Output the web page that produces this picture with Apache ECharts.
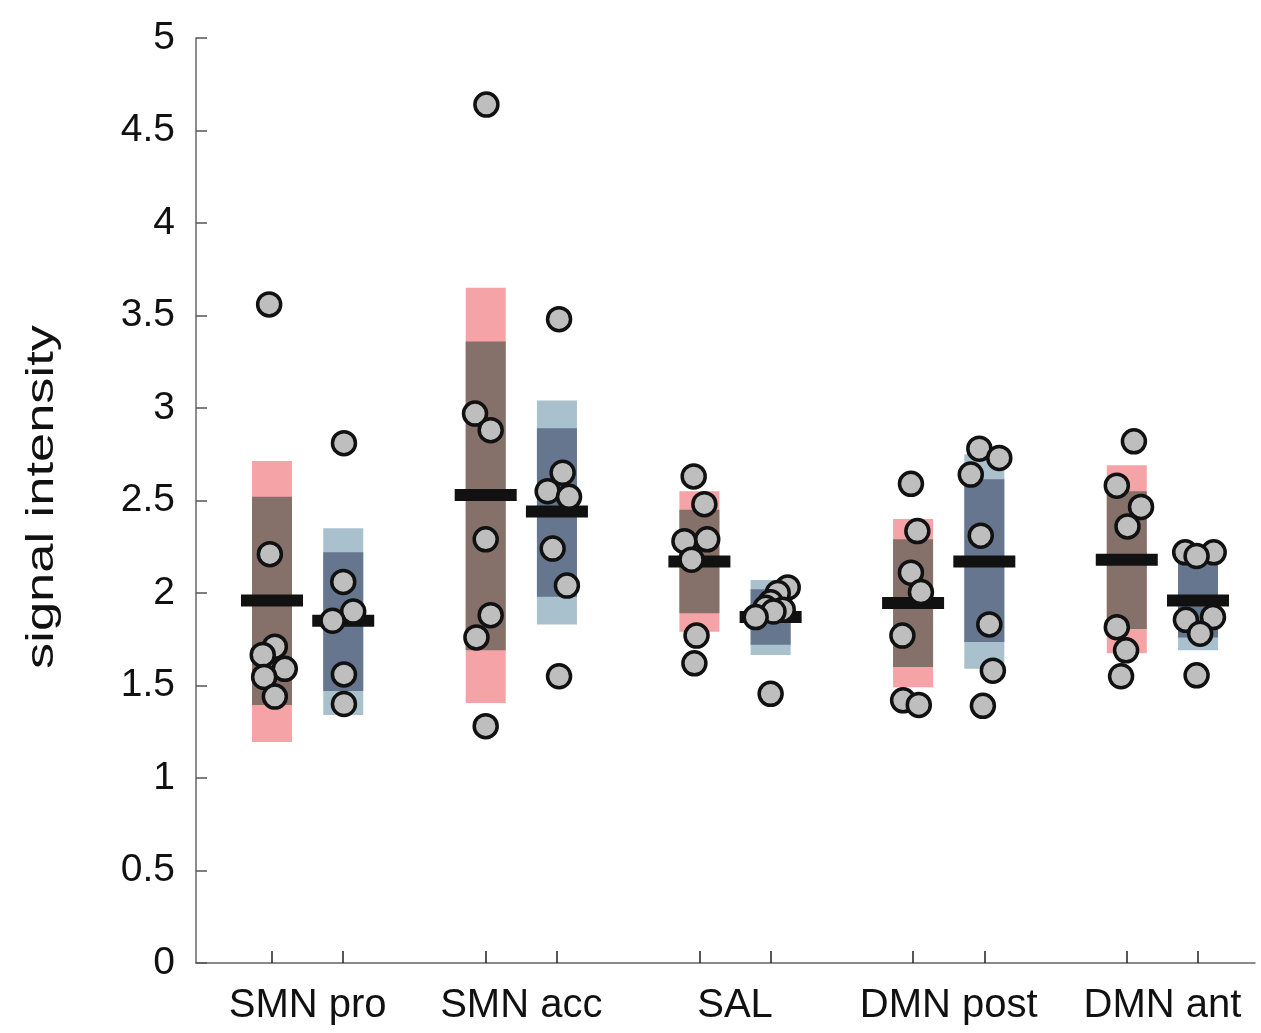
<!DOCTYPE html>
<html>
<head>
<meta charset="utf-8">
<script src="https://cdn.jsdelivr.net/npm/echarts@6/dist/echarts.min.js"></script>
<style>
  html, body { margin: 0; padding: 0; background: #fff; }
  #chart { width: 1261px; height: 1033px; }
</style>
</head>
<body>
<div id="chart"></div>
<script>
const groups = ["SMN pro", "SMN acc", "SAL", "DMN post", "DMN ant"];

// first bar of each pair (red/brown)
const redOuter = [[1.195, 2.714], [1.405, 3.65], [1.79, 2.55], [1.49, 2.40], [1.675, 2.69]];
const redInner = [[1.395, 2.52], [1.69, 3.36], [1.89, 2.45], [1.60, 2.29], [1.805, 2.55]];
const redMean = [1.96, 2.53, 2.17, 1.946, 2.18];

// second bar of each pair (blue)
const blueOuter = [[1.34, 2.35], [1.83, 3.04], [1.665, 2.07], [1.59, 2.75], [1.69, 2.24]];
const blueInner = [[1.47, 2.22], [1.98, 2.89], [1.72, 2.02], [1.735, 2.615], [1.76, 2.19]];
const blueMean = [1.85, 2.44, 1.87, 2.17, 1.96];

// individual points [x, value]
const redPoints = [
  [[0.96, 3.56], [0.97, 2.21], [1.04, 1.71], [0.87, 1.665], [1.18, 1.59], [0.89, 1.546], [1.04, 1.44]],
  [[4.01, 4.64], [3.85, 2.97], [4.07, 2.88], [4.0, 2.29], [4.07, 1.88], [3.87, 1.76], [4.0, 1.28]],
  [[6.92, 2.63], [7.07, 2.48], [6.79, 2.28], [7.11, 2.29], [6.89, 2.18], [6.96, 1.77], [6.93, 1.62]],
  [[9.97, 2.59], [10.06, 2.335], [9.97, 2.11], [10.11, 2.005], [9.85, 1.77], [9.86, 1.42], [10.08, 1.395]],
  [[13.1, 2.82], [12.86, 2.58], [13.2, 2.465], [13.01, 2.36], [12.86, 1.815], [12.99, 1.69], [12.92, 1.55]]
];
const bluePoints = [
  [[2.01, 2.81], [2.0, 2.06], [2.14, 1.90], [1.85, 1.85], [2.01, 1.56], [2.01, 1.40]],
  [[5.03, 3.48], [5.08, 2.65], [4.87, 2.55], [5.17, 2.52], [4.94, 2.24], [5.14, 2.04], [5.03, 1.55]],
  [[8.24, 2.03], [8.10, 2.0], [8.0, 1.95], [7.93, 1.92], [8.17, 1.91], [8.04, 1.9], [7.79, 1.87], [8.0, 1.455]],
  [[10.93, 2.78], [11.21, 2.73], [10.81, 2.64], [10.95, 2.31], [11.07, 1.83], [11.12, 1.58], [10.98, 1.39]],
  [[13.82, 2.22], [14.22, 2.22], [13.98, 2.20], [13.83, 1.855], [14.21, 1.87], [14.03, 1.78], [13.98, 1.555]]
];

const redX = groups.map((g, i) => 3 * i + 1);
const blueX = groups.map((g, i) => 3 * i + 2);
const labelX = groups.map((g, i) => 3 * i + 1.5);

function bandData(xs, ranges) {
  return ranges.map((r, i) => [xs[i], r[0], r[1]]);
}

function bandItem(params, api) {
  let x = api.value(0);
  let top = api.coord([x, api.value(2)]);
  let bot = api.coord([x, api.value(1)]);
  return {
    type: "rect",
    shape: { x: top[0] - 20, y: top[1], width: 40, height: bot[1] - top[1] },
    style: { fill: api.visual("color") }
  };
}

function bandSeries(data, color, z) {
  return {
    type: "custom",
    renderItem: bandItem,
    data: data,
    encode: { x: 0, y: [1, 2] },
    itemStyle: { color: color },
    z: z,
    silent: true
  };
}

function meanSeries(xs, means) {
  return {
    type: "scatter",
    data: means.map((m, i) => [xs[i], m]),
    symbol: "rect",
    symbolSize: [62, 12],
    itemStyle: { color: "#111", opacity: 1 },
    z: 5,
    silent: true
  };
}

function pointSeries(pts) {
  return {
    type: "scatter",
    data: pts.flat(),
    symbolSize: 23,
    itemStyle: { color: "#bebebe", borderColor: "#111", borderWidth: 3.5, opacity: 1 },
    z: 10,
    silent: true
  };
}

let chart = echarts.init(document.getElementById("chart"), null, { renderer: "canvas" });

let option = {
  animation: false,
  backgroundColor: "#fff",
  textStyle: { fontFamily: "Liberation Sans, Arial, sans-serif" },
  grid: { left: 196, right: 6, top: 38, bottom: 70 },
  xAxis: {
    type: "value",
    min: -0.067,
    max: 14.8,
    splitLine: { show: false },
    axisLine: { show: true, onZero: false, lineStyle: { color: "#666", width: 1.5 } },
    axisTick: {
      show: true,
      inside: true,
      length: 12,
      customValues: redX.concat(blueX),
      lineStyle: { color: "#222", width: 1.5 }
    },
    axisLabel: {
      customValues: labelX,
      formatter: (v) => groups[Math.round((v - 1.5) / 3)],
      fontSize: 40,
      color: "#111",
      margin: 23
    }
  },
  yAxis: {
    type: "value",
    min: 0,
    max: 5,
    interval: 0.5,
    splitLine: { show: false },
    axisLine: { show: true, onZero: false, lineStyle: { color: "#666", width: 1.5 } },
    axisTick: { show: true, inside: true, length: 11, lineStyle: { color: "#555", width: 1.5 } },
    axisLabel: {
      fontSize: 39,
      color: "#111",
      margin: 21,
      formatter: (v) => String(v)
    }
  },
  graphic: [
    {
      type: "text",
      x: 43,
      y: 497,
      rotation: Math.PI / 2,
      scaleX: 1.38,
      style: {
        text: "signal intensity",
        font: "38px 'Liberation Sans', Arial, sans-serif",
        fill: "#111",
        align: "center",
        verticalAlign: "middle"
      }
    }
  ],
  series: [
    bandSeries(bandData(redX, redOuter), "#f5a3a6", 1),
    bandSeries(bandData(redX, redInner), "#86706a", 2),
    bandSeries(bandData(blueX, blueOuter), "#a9c0cd", 1),
    bandSeries(bandData(blueX, blueInner), "#66768f", 2),
    meanSeries(redX, redMean),
    meanSeries(blueX, blueMean),
    pointSeries(redPoints),
    pointSeries(bluePoints)
  ]
};

chart.setOption(option);
</script>
</body>
</html>
